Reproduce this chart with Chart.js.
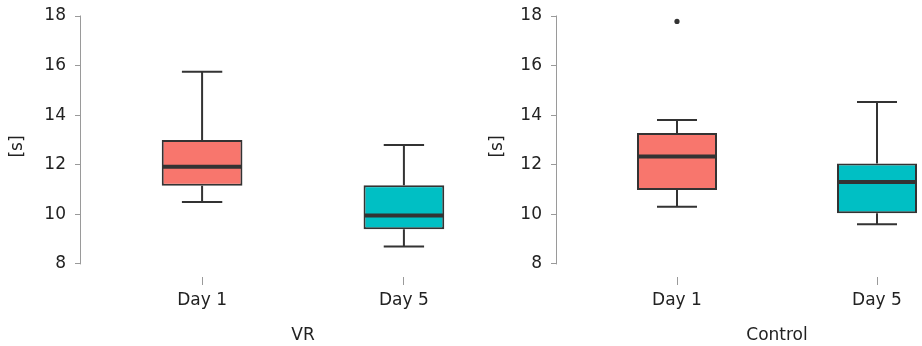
<!DOCTYPE html>
<html>
<head>
<meta charset="utf-8">
<title>Completion time by day</title>
<script src="https://cdn.jsdelivr.net/npm/chart.js@4.4.1/dist/chart.umd.min.js"></script>
<style>
  html, body { margin: 0; padding: 0; background: #ffffff; overflow: hidden; }
  body { width: 922px; height: 346px; position: relative; }
  canvas { position: absolute; top: 0; }
  #vr { left: 0; }
  #control { left: 461px; }
</style>
</head>
<body>
<canvas id="vr" width="525" height="346"></canvas>
<canvas id="control" width="540" height="346"></canvas>
<script>
// Categories and tick labels
const days = ['Day 1', 'Day 5'];
const dayPositions = [1, 2];
const yTicks = [8, 10, 12, 14, 16, 18];
const boxColors = ['#F8766D', '#00BFC4'];

// VR group: five-number summaries per day (seconds)
const vrMin    = [10.5, 8.7];
const vrQ1     = [11.15, 9.4];
const vrMedian = [11.92, 9.95];
const vrQ3     = [13.0, 11.17];
const vrMax    = [15.75, 12.8];
const vrOutlierDay   = [];
const vrOutlierValue = [];

// Control group: five-number summaries per day (seconds)
const ctrlMin    = [10.3, 9.6];
const ctrlQ1     = [10.98, 10.04];
const ctrlMedian = [12.33, 11.3];
const ctrlQ3     = [13.28, 12.05];
const ctrlMax    = [13.8, 14.53];
const ctrlOutlierDay   = ['Day 1'];
const ctrlOutlierValue = [17.78];

const FONT = { family: 'DejaVu Sans', size: 17 };
const TEXT = '#222222';
const AXIS = '#9a9a9a';
const INK  = '#333333';

// Whiskers, caps, medians and the detached y axis line, all placed through the scales
const boxDetails = {
  id: 'boxDetails',
  afterDatasetsDraw(chart, args, opts) {
    const { ctx, scales: { x, y }, chartArea } = chart;
    const s = opts.summary;
    const capHalf = (x.getPixelForValue(1.1) - x.getPixelForValue(1.0));
    const boxHalf = (x.getPixelForValue(1.2) - x.getPixelForValue(1.0));
    ctx.save();
    ctx.strokeStyle = INK;
    ctx.lineCap = 'butt';
    s.pos.forEach((p, i) => {
      const cx = x.getPixelForValue(p);
      ctx.lineWidth = 2;
      ctx.beginPath();
      // upper whisker
      ctx.moveTo(cx, y.getPixelForValue(s.q3[i]));
      ctx.lineTo(cx, y.getPixelForValue(s.max[i]));
      ctx.moveTo(cx - capHalf, y.getPixelForValue(s.max[i]));
      ctx.lineTo(cx + capHalf, y.getPixelForValue(s.max[i]));
      // lower whisker
      ctx.moveTo(cx, y.getPixelForValue(s.q1[i]));
      ctx.lineTo(cx, y.getPixelForValue(s.min[i]));
      ctx.moveTo(cx - capHalf, y.getPixelForValue(s.min[i]));
      ctx.lineTo(cx + capHalf, y.getPixelForValue(s.min[i]));
      ctx.stroke();
      // median
      ctx.lineWidth = 4;
      ctx.beginPath();
      ctx.moveTo(cx - boxHalf + 1, y.getPixelForValue(s.median[i]));
      ctx.lineTo(cx + boxHalf - 1, y.getPixelForValue(s.median[i]));
      ctx.stroke();
    });
    // y axis line spanning the first to the last tick
    ctx.strokeStyle = AXIS;
    ctx.lineWidth = 1;
    ctx.beginPath();
    const ax = Math.round(chartArea.left) - 0.5;
    ctx.moveTo(ax, y.getPixelForValue(yTicks[0]) + 0.5);
    ctx.lineTo(ax, y.getPixelForValue(yTicks[yTicks.length - 1]) - 0.5);
    ctx.stroke();
    ctx.restore();
  }
};

function makePanel(canvasId, title, s, outlierDay, outlierVal, yAxisWidth, yTitlePad) {
  const boxes = s.pos.map((p, i) => ({ x: p, y: [s.q1[i], s.q3[i]] }));
  const outliers = outlierDay.map((d, i) => ({ x: dayPositions[days.indexOf(d)], y: outlierVal[i] }));
  new Chart(document.getElementById(canvasId), {
    type: 'bar',
    data: {
      datasets: [
        {
          type: 'bar',
          data: boxes,
          backgroundColor: boxColors,
          borderColor: INK,
          borderWidth: 2,
          borderSkipped: false,
          categoryPercentage: 0.4,
          barPercentage: 1.0
        },
        {
          type: 'scatter',
          data: outliers,
          pointRadius: 2.6,
          backgroundColor: INK,
          borderWidth: 0
        }
      ]
    },
    options: {
      responsive: false,
      animation: false,
      devicePixelRatio: 1,
      layout: { padding: { top: 16, right: 0, bottom: 0, left: 0 } },
      plugins: {
        legend: { display: false },
        tooltip: { enabled: false },
        boxDetails: { summary: s }
      },
      scales: {
        x: {
          type: 'linear',
          min: 0.4,
          max: 2.6,
          offset: false,
          afterBuildTicks: sc => { sc.ticks = dayPositions.map(v => ({ value: v })); },
          afterFit: sc => { sc.height = 69; },
          ticks: {
            autoSkip: false,
            maxRotation: 0,
            padding: 5,
            color: TEXT,
            font: FONT,
            callback: v => days[dayPositions.indexOf(v)]
          },
          grid: { offset: false, drawOnChartArea: false, drawTicks: true, tickLength: 8, color: AXIS, tickColor: AXIS },
          border: { display: false },
          title: { display: true, text: title, color: TEXT, font: FONT, padding: { top: 0, bottom: 0 } }
        },
        y: {
          type: 'linear',
          min: 7.47,
          max: 18,
          afterBuildTicks: sc => { sc.ticks = yTicks.map(v => ({ value: v })); },
          afterFit: sc => {
            sc.width = yAxisWidth;
            sc.paddingTop = 10;
            sc.paddingBottom = 10;
          },
          ticks: { padding: 9, color: TEXT, font: FONT },
          grid: { drawOnChartArea: false, drawTicks: true, tickLength: 6, color: AXIS, tickColor: AXIS },
          border: { display: false },
          title: { display: true, text: '[s]', color: TEXT, font: FONT, padding: { top: yTitlePad, bottom: 0 } }
        }
      }
    },
    plugins: [boxDetails]
  });
}

makePanel('vr', 'VR',
  { pos: dayPositions, min: vrMin, q1: vrQ1, median: vrMedian, q3: vrQ3, max: vrMax },
  vrOutlierDay, vrOutlierValue, 81, 7);

makePanel('control', 'Control',
  { pos: dayPositions, min: ctrlMin, q1: ctrlQ1, median: ctrlMedian, q3: ctrlQ3, max: ctrlMax },
  ctrlOutlierDay, ctrlOutlierValue, 96, 26);
</script>
</body>
</html>
